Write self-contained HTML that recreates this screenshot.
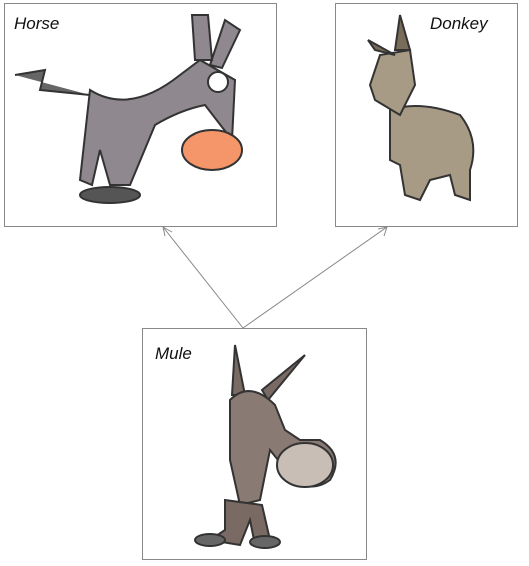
<!DOCTYPE html>
<html><head><style>
body{margin:0;background:#fff;width:529px;height:566px;position:relative;overflow:hidden;font-family:"Liberation Sans",sans-serif}
.b{position:absolute;border:1px solid #888;background:#fff}
.t{position:absolute;font-size:17px;color:#111;font-style:italic}
svg{position:absolute;left:0;top:0}
</style></head><body>
<div class="b" style="left:4px;top:3px;width:271px;height:222px"></div>
<div class="b" style="left:335px;top:3px;width:181px;height:222px"></div>
<div class="b" style="left:142px;top:328px;width:223px;height:230px"></div>
<svg width="529" height="566">
<g stroke="#888" fill="none" stroke-width="1">
<line x1="243" y1="328" x2="163" y2="227"/><line x1="163" y1="227" x2="165" y2="236"/><line x1="163" y1="227" x2="172" y2="232"/>
<line x1="243" y1="328" x2="387" y2="227"/><line x1="387" y1="227" x2="378" y2="229"/><line x1="387" y1="227" x2="384" y2="236"/>
</g>
<!-- horse -->
<g stroke="#333" stroke-width="2">
<path d="M90 90 Q130 115 180 75 L200 60 L235 80 L232 140 L205 105 Q180 110 155 125 L130 185 L110 185 L100 150 L92 185 L80 180 Z" fill="#8f888e"/>
<path d="M195 60 L192 15 L208 15 L212 60 Z M210 65 L225 20 L240 30 L222 68 Z" fill="#8f888e"/>
<ellipse cx="212" cy="150" rx="30" ry="20" fill="#f5966a"/>
<circle cx="218" cy="82" r="10" fill="#fff"/>
<path d="M15 75 L45 70 L40 90 L90 95" fill="#666"/>
<ellipse cx="110" cy="195" rx="30" ry="8" fill="#555"/>
</g>
<!-- donkey -->
<g stroke="#333" stroke-width="2">
<path d="M390 110 Q420 100 460 115 Q480 140 470 170 L470 200 L455 195 L450 175 L430 180 L420 200 L405 195 L400 165 L390 160 Z" fill="#a89b86"/>
<path d="M380 55 L410 50 L415 85 L400 115 L375 100 L370 85 Z" fill="#a89b86"/>
<path d="M400 15 L410 50 L395 50 Z M368 40 L395 55 L375 50 Z" fill="#7a6c5a"/>
</g>
<!-- mule -->
<g stroke="#333" stroke-width="2">
<path d="M235 345 L245 395 L232 395 Z M305 355 L268 400 L262 390 Z" fill="#7a6a64"/>
<path d="M230 400 Q250 380 275 405 L285 430 L300 440 L320 440 Q345 455 330 480 Q310 495 290 475 L270 450 L260 500 L240 505 L230 460 Z" fill="#8a7a74"/>
<ellipse cx="305" cy="465" rx="28" ry="22" fill="#c9beb6"/>
<path d="M225 500 L225 530 L210 540 L240 545 L250 520 L255 545 L270 540 L262 505 Z" fill="#7a6a64"/>
<ellipse cx="210" cy="540" rx="15" ry="6" fill="#666"/><ellipse cx="265" cy="542" rx="15" ry="6" fill="#666"/>
</g>
</svg>
<div class="t" style="left:14px;top:14px">Horse</div>
<div class="t" style="left:430px;top:14px">Donkey</div>
<div class="t" style="left:155px;top:344px">Mule</div>
</body></html>
